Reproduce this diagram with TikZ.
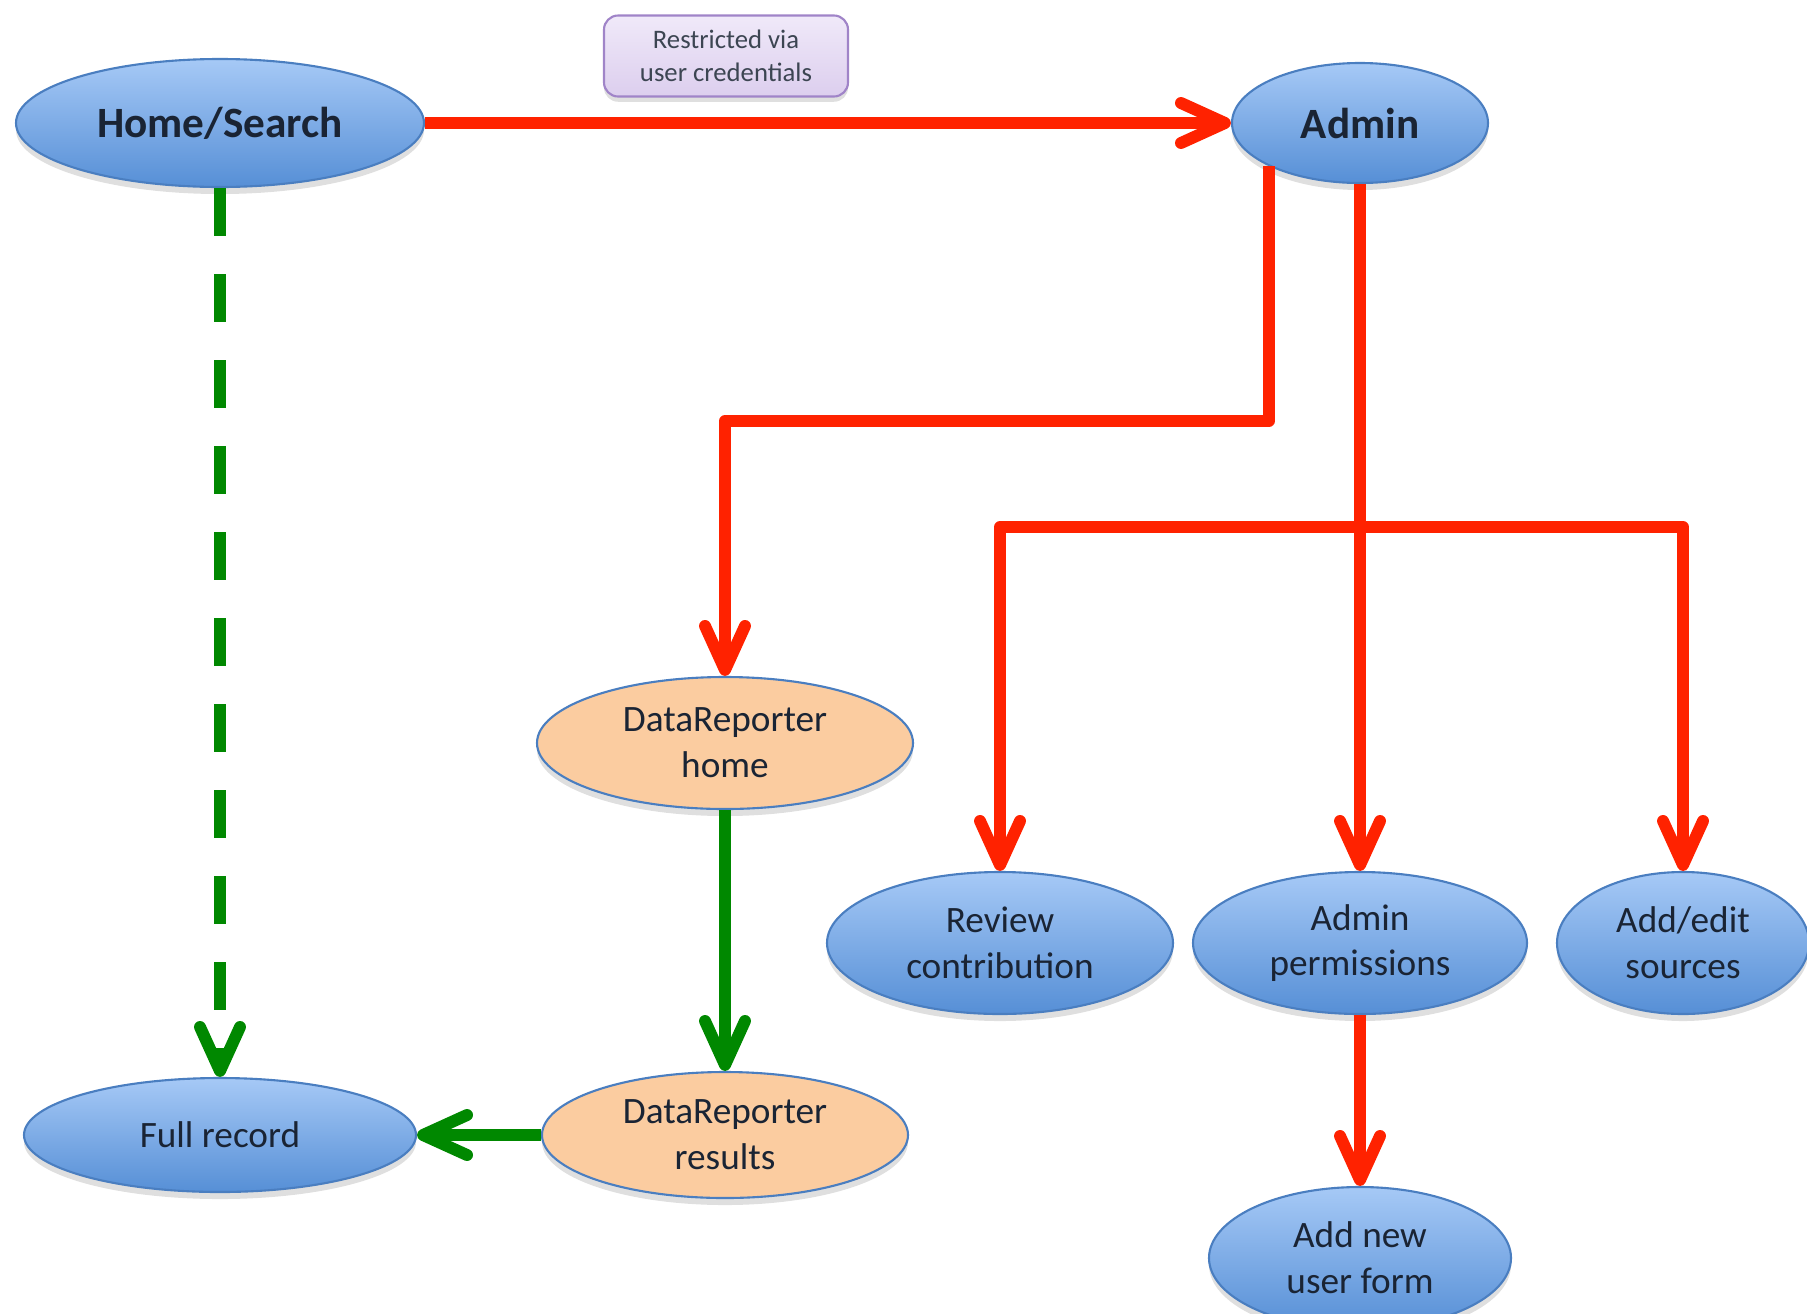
\documentclass[tikz,border=0pt]{standalone}
\usepackage{fontspec}
\setmainfont{Carlito}
\usetikzlibrary{arrows.meta,shapes.geometric,shadows}

\definecolor{linkred}{RGB}{255,34,0}
\definecolor{linkgreen}{RGB}{0,136,0}
\definecolor{pagetop}{RGB}{166,201,246}
\definecolor{pagebot}{RGB}{86,143,214}
\definecolor{pageline}{RGB}{74,126,192}
\definecolor{reportfill}{RGB}{251,204,160}
\definecolor{notetop}{RGB}{240,233,249}
\definecolor{notebot}{RGB}{220,206,238}
\definecolor{noteline}{RGB}{160,132,200}
\definecolor{inktext}{RGB}{26,36,52}

\begin{document}
\begin{tikzpicture}[
  pagebase/.style={ellipse, draw=pageline, line width=.6pt, inner sep=0pt,
    align=center, text=inktext, font=\fontsize{10.6}{13}\selectfont,
    drop shadow={shadow xshift=0pt, shadow yshift=-2pt, opacity=.25}},
  page/.style={pagebase, top color=pagetop, bottom color=pagebot},
  mainpage/.style={page, font=\fontsize{12.3}{14}\selectfont\bfseries},
  report/.style={pagebase, fill=reportfill},
  notebox/.style={rectangle, rounded corners=4pt, draw=noteline, line width=.6pt,
    top color=notetop, bottom color=notebot, align=center, text=inktext!85,
    font=\fontsize{7.6}{9.5}\selectfont, minimum width=2.44cm, minimum height=.81cm,
    drop shadow={shadow xshift=0pt, shadow yshift=-1.5pt, opacity=.25}},
  redlink/.style={draw=linkred, line width=3.4pt, line join=round,
    -{Straight Barb[round,length=4.4mm,width=4mm]}},
  greenlink/.style={redlink, draw=linkgreen},
  greendash/.style={greenlink, line cap=butt, dash pattern=on .48cm off .38cm}
]

\useasboundingbox (0,0) rectangle (18.07,-13.13);
\clip (0,0) rectangle (18.07,-13.13);

\node (home) [mainpage, minimum width=4.08cm, minimum height=1.28cm]
  at (2.20,-1.23) {Home/Search};
\node (admin) [mainpage, minimum width=2.56cm, minimum height=1.20cm]
  at (13.60,-1.23) {Admin};
\node (note) [notebox] at (7.26,-.56) {Restricted via\\user credentials};

\node (drhome) [report, minimum width=3.76cm, minimum height=1.32cm]
  at (7.25,-7.43) {DataReporter\\home};
\node (drres) [report, minimum width=3.66cm, minimum height=1.26cm]
  at (7.25,-11.35) {DataReporter\\results};
\node (full) [page, minimum width=3.92cm, minimum height=1.14cm]
  at (2.20,-11.35) {Full record};

\node (review) [page, minimum width=3.46cm, minimum height=1.42cm]
  at (10.00,-9.43) {Review\\contribution};
\node (perm) [page, minimum width=3.34cm, minimum height=1.42cm]
  at (13.60,-9.43) {Admin\\permissions};
\node (sources) [page, minimum width=2.52cm, minimum height=1.42cm]
  at (16.83,-9.43) {Add/edit\\sources};
\node (newuser) [page, minimum width=3.02cm, minimum height=1.42cm]
  at (13.60,-12.58) {Add new\\user form};

\coordinate (upper) at (10.00,-4.21);
\coordinate (branch) at (13.60,-5.27);

\draw[redlink] (home.east) -- (admin.west);
\draw[redlink] (admin.south west) |- (upper) -| (drhome.north);
\draw[redlink] (branch) -| (review.north);
\draw[redlink] (branch) -| (sources.north);
\draw[redlink] (admin.south) -- (perm.north);
\draw[redlink] (perm.south) -- (newuser.north);

\draw[greendash] (home.south) -- (full.north);
\draw[greenlink] (drhome.south) -- (drres.north);
\draw[greenlink] (drres.west) -- (full.east);
\end{tikzpicture}
\end{document}
